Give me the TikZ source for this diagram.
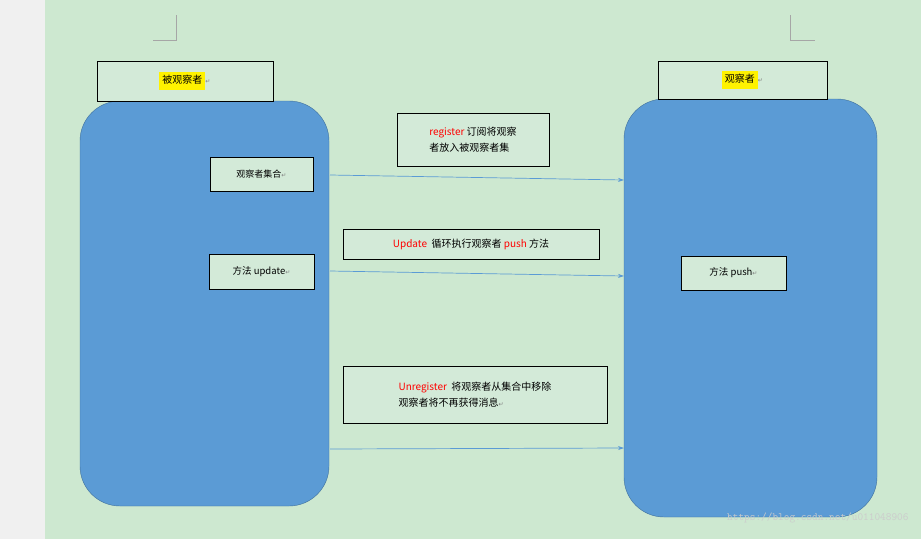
\documentclass[tikz,border=0pt]{standalone}
\usepackage{fontspec}
\setmainfont{Noto Sans CJK SC}
\newfontfamily\djv{DejaVu Sans}
\usetikzlibrary{arrows.meta}
\definecolor{bg}{HTML}{CDE8D0}
\definecolor{big}{HTML}{5B9BD5}
\definecolor{bigb}{HTML}{41719C}
\definecolor{lbl}{HTML}{D3EAD8}
\definecolor{ln}{HTML}{5B9BD5}
\newcommand{\retmk}{{\djv\fontsize{6}{6}\selectfont\color{gray}↵}}
\begin{document}
\begin{tikzpicture}[x=1pt,y=-1pt,
  big/.style={draw=bigb,fill=big,rounded corners=40pt},
  box/.style={draw=black,fill=lbl,line width=0.6pt},
  txt/.style={font=\fontsize{10}{16}\selectfont,align=left},
  arr/.style={draw=ln,line width=0.7pt,-{Stealth[length=6pt,width=4pt]}}]
\fill[gray!12] (0,0) rectangle (45,539);
\fill[bg] (45,0) rectangle (921,539);
\useasboundingbox (0,0) rectangle (921,539);
\draw[gray!70] (176,15) -- (176,40) -- (153,40);
\draw[gray!70] (790,15) -- (790,40) -- (815,40);
% big shapes
\draw[big] (80,101) rectangle (329,506);
\draw[big] (624,99) rectangle (877,517);
% titles
\node[box,minimum width=176pt,minimum height=40pt] (t1) at (185,81) {\fontsize{10}{12}\selectfont\colorbox{yellow}{\strut 被观察者}\retmk};
\node[box,minimum width=169pt,minimum height=38pt] (t2) at (742.5,80) {\fontsize{10}{12}\selectfont\colorbox{yellow}{\strut 观察者}\retmk};
% inner nodes
\node[box,minimum width=103pt,minimum height=34pt] (set) at (261.5,174) {\fontsize{9}{11}\selectfont 观察者集合\retmk};
\node[box,minimum width=105pt,minimum height=35pt] (upd) at (261.5,271.5) {\fontsize{9.5}{11}\selectfont 方法 update\retmk};
\node[box,minimum width=105pt,minimum height=34pt] (push) at (733.5,273) {\fontsize{9.5}{11}\selectfont 方法 push\retmk};
% labels
\node[box,minimum width=152pt,minimum height=53pt,txt] (l1) at (473,139.5) {\textcolor{red}{register}\ 订阅将观察\\者放入被观察者集};
\node[box,minimum width=256pt,minimum height=30pt,txt] (l2) at (471,244) {\textcolor{red}{Update}\ \ 循环执行观察者 \textcolor{red}{push} 方法};
\node[box,minimum width=264pt,minimum height=57pt,txt] (l3) at (475,394.5) {\textcolor{red}{Unregister}\ \ 将观察者从集合中移除\\观察者将不再获得消息\retmk};
% arrows
\coordinate (a1) at (330,175); \coordinate (b1) at (624,180);
\coordinate (a2) at (330,271); \coordinate (b2) at (624,276);
\coordinate (a3) at (330,449); \coordinate (b3) at (624,448);
\draw[arr] (a1) -- (b1);
\draw[arr] (a2) -- (b2);
\draw[arr] (a3) -- (b3);
\node[anchor=east,text=gray!40,font=\ttfamily\fontsize{11}{12}\selectfont] (wm) at (912,518) {https://blog.csdn.net/u011048906};
\end{tikzpicture}
\end{document}
